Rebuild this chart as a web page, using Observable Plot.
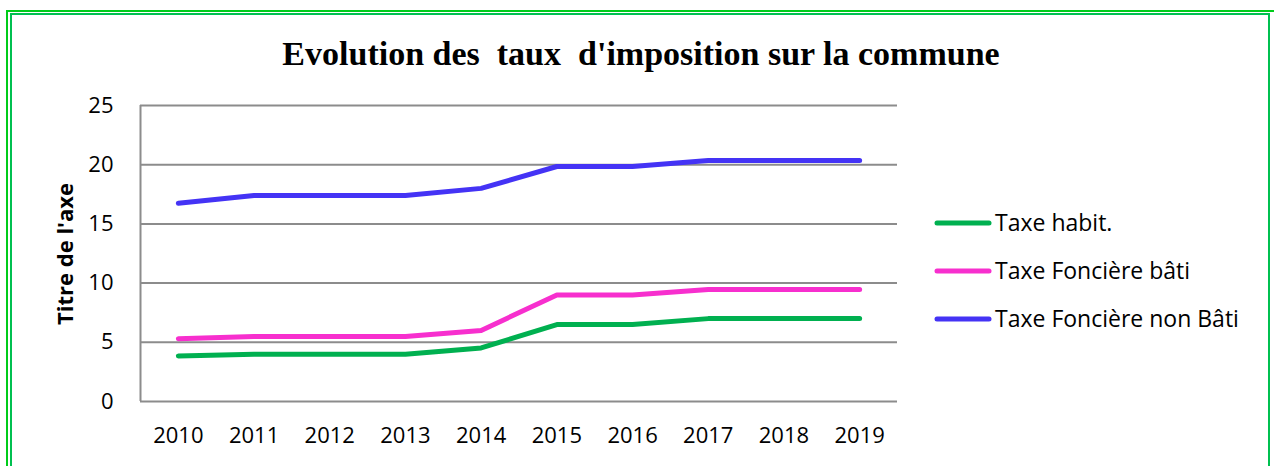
<!DOCTYPE html>
<html>
<head>
<meta charset="utf-8">
<script src="https://cdn.jsdelivr.net/npm/d3@7"></script>
<script src="https://cdn.jsdelivr.net/npm/@observablehq/plot@0.6"></script>
<style>
  html, body { margin: 0; padding: 0; background: #fff; }
  #page { position: relative; width: 1274px; height: 466px; overflow: hidden; background: #fff; }
  #outer { position: absolute; left: 6px; top: 10px; width: 1300px; height: 500px; border-left: 2px solid #00cc1a; border-top: 2px solid #00cc1a; }
  #inner { position: absolute; left: 10px; top: 13px; width: 1256px; height: 500px; border: 2px solid #00c050; }
  #chart { position: absolute; left: 0; top: 90px; }
  #overlay { position: absolute; left: 0; top: 0; pointer-events: none; }
</style>
</head>
<body>
<div id="page">
  <div id="outer"></div>
  <div id="inner"></div>
  <div id="chart"></div>
  <svg id="overlay" width="1274" height="466"></svg>
</div>
<script>
const title = "Evolution des  taux  d'imposition sur la commune";
const yAxisTitle = "Titre de l'axe";
const years = [2010, 2011, 2012, 2013, 2014, 2015, 2016, 2017, 2018, 2019];
const yTicks = [0, 5, 10, 15, 20, 25];
const seriesNames = ["Taxe habit.", "Taxe Foncière bâti", "Taxe Foncière non Bâti"];
const seriesColors = ["#00b050", "#f72fce", "#4433f5"];
const taxeHabit = [3.85, 4.0, 4.0, 4.0, 4.52, 6.5, 6.5, 7.0, 7.0, 7.0];
const taxeFonciereBati = [5.3, 5.49, 5.49, 5.49, 6.0, 9.0, 9.0, 9.46, 9.46, 9.46];
const taxeFonciereNonBati = [16.75, 17.4, 17.4, 17.4, 18.0, 19.85, 19.85, 20.35, 20.35, 20.35];

const seriesValues = [taxeHabit, taxeFonciereBati, taxeFonciereNonBati];
const data = [];
seriesNames.forEach((name, i) => {
  years.forEach((yr, j) => data.push({series: name, year: yr, value: seriesValues[i][j]}));
});

const gridColor = "#8c8c8c";
const chart = Plot.plot({
  width: 1274,
  height: 376,
  marginTop: 15,
  marginBottom: 65,
  marginLeft: 140,
  marginRight: 377,
  style: {fontFamily: "'Open Sans', sans-serif", fontSize: "22px", color: "#000", background: "transparent"},
  x: {domain: [2009.5, 2019.5], ticks: years, tickFormat: d => String(d), tickSize: 0, tickPadding: 26, label: null},
  y: {domain: [0, 25], ticks: yTicks, tickSize: 0, tickPadding: 27, label: null},
  color: {domain: seriesNames, range: seriesColors},
  marks: [
    Plot.ruleY(yTicks, {stroke: gridColor, strokeWidth: 2}),
    Plot.ruleX([2009.5], {stroke: gridColor, strokeWidth: 2}),
    Plot.line(data, {x: "year", y: "value", z: "series", stroke: "series", strokeWidth: 5, strokeLinecap: "round", strokeLinejoin: "round"})
  ]
});
document.getElementById("chart").appendChild(chart);

const ov = d3.select("#overlay");
ov.append("text")
  .attr("x", 641).attr("y", 65)
  .attr("text-anchor", "middle")
  .attr("font-family", "'Liberation Serif', serif")
  .attr("font-weight", "bold")
  .attr("font-size", 34)
  .style("white-space", "pre")
  .attr("xml:space", "preserve")
  .text(title);

ov.append("text")
  .attr("transform", "translate(73,254) rotate(-90)")
  .attr("text-anchor", "middle")
  .attr("font-family", "'Open Sans', sans-serif")
  .attr("font-weight", "bold")
  .attr("font-size", 22)
  .text(yAxisTitle);

const legendY = [223, 271, 319];
seriesNames.forEach((name, i) => {
  ov.append("line")
    .attr("x1", 937).attr("x2", 989)
    .attr("y1", legendY[i]).attr("y2", legendY[i])
    .attr("stroke", seriesColors[i]).attr("stroke-width", 5).attr("stroke-linecap", "round");
  ov.append("text")
    .attr("x", 995).attr("y", legendY[i] + 8)
    .attr("font-family", "'Open Sans', sans-serif")
    .attr("font-size", 23)
    .text(name);
});
</script>
</body>
</html>
